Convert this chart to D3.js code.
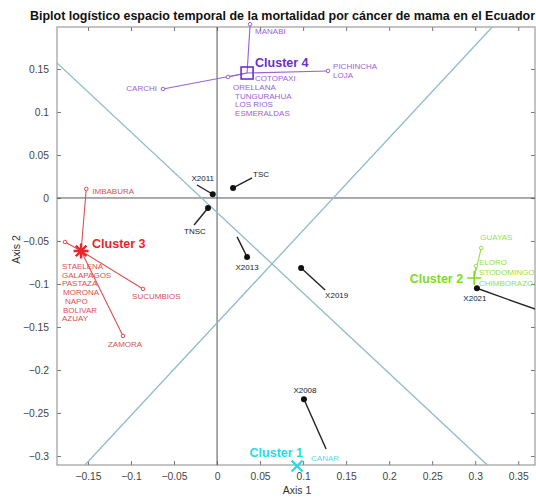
<!DOCTYPE html>
<html>
<head>
<meta charset="utf-8">
<script src="https://cdn.jsdelivr.net/npm/d3@7"></script>
<style>
  html, body { margin: 0; padding: 0; background: #fff; }
  svg { display: block; font-family: "Liberation Sans", Arial, sans-serif; }
</style>
</head>
<body>
<svg id="chart" width="536" height="498"></svg>
<script>
// ---- Data ----------------------------------------------------------------
const xTicks = [-0.15, -0.1, -0.05, 0, 0.05, 0.1, 0.15, 0.2, 0.25, 0.3, 0.35];
const yTicks = [-0.3, -0.25, -0.2, -0.15, -0.1, -0.05, 0, 0.05, 0.1, 0.15];

// Variables (years and sex categories): point and end of the biplot segment
const varNames = ["X2011", "TSC", "TNSC", "X2013", "X2019", "X2008", "X2021"];
const varX     = [-0.005, 0.0186, -0.0105, 0.0349, 0.0977, 0.101, 0.302];
const varY     = [0.0043, 0.0116, -0.0116, -0.0686, -0.0814, -0.234, -0.105];
const varTipX  = [-0.0233, 0.0407, -0.0267, 0.0233, 0.1256, 0.1267, 0.3756];
const varTipY  = [0.0151, 0.0233, -0.0314, -0.0453, -0.107, -0.292, -0.1314];

// Cluster centroids
const clusterNames = ["Cluster 1", "Cluster 2", "Cluster 3", "Cluster 4"];
const clusterX     = [0.093, 0.2988, -0.158, 0.0349];
const clusterY     = [-0.3116, -0.093, -0.0616, 0.1453];

// Provinces, grouped where they share the same position
const provGroups = [
  ["CANAR"],
  ["GUAYAS"],
  ["ELORO", "STODOMINGO", "CHIMBORAZO"],
  ["IMBABURA"],
  ["STAELENA", "GALAPAGOS", "PASTAZA", "MORONA", "NAPO", "BOLIVAR", "AZUAY"],
  ["SUCUMBIOS"],
  ["ZAMORA"],
  ["MANABI"],
  ["PICHINCHA", "LOJA"],
  ["CARCHI"],
  ["COTOPAXI", "ORELLANA", "TUNGURAHUA", "LOS RIOS", "ESMERALDAS"]
];
const provCluster = [0, 1, 1, 2, 2, 2, 2, 3, 3, 3, 3];
const provX = [0.093, 0.307, 0.301, -0.152, -0.1767, -0.086, -0.1093, 0.0384, 0.129, -0.0628, 0.0128];
const provY = [-0.3116, -0.0581, -0.079, 0.0105, -0.0512, -0.1058, -0.1605, 0.202, 0.1477, 0.1267, 0.1407];

// Separating lines (two points each)
const sepLines = [
  [[-0.186, 0.157], [0.314, -0.3105]],
  [[-0.1535, -0.3105], [0.3198, 0.1988]]
];

// ---- Layout / style -------------------------------------------------------
const plot = { left: 57, right: 535, top: 27, bottom: 465 };
const clusterColor = ["#22dde6", "#7ddc1f", "#e8262a", "#6a2fd0"];
const labelColor   = ["#55dde8", "#93e04a", "#d9504f", "#9b62d6"];

// Label placement per variable: [dx, dy, anchor] relative to the point, px
const varLabelPos = {
  X2011: [-10, -13, "middle"], TSC: [20, -11, "start"], TNSC: [-13, 26, "middle"],
  X2013: [0, 13, "middle"], X2019: [24, 30, "start"], X2008: [1, -6, "middle"],
  X2021: [-2, 13, "middle"]
};
// Label block placement per province group: [dx, dy of first line, anchor, line step]
const provLabelPos = [
  [14, -5, "start", 8.5],
  [-1, -8, "start", 9],
  [3, -1, "start", 10.5],
  [6, 5, "start", 8.5],
  [-3, 27, "start", 8.7],
  [-11, 10, "start", 8.5],
  [-15, 11, "start", 8.5],
  [5, 10, "start", 8.5],
  [5, -2, "start", 9],
  [-6, 2, "end", 8.5],
  [27, 4, "start", 8.8]
];
const clusterLabelPos = [[6, -9, "end"], [-11, 5, "end"], [11, -3, "start"], [8, -6, "start"]];
// per-line x shift inside the stacked label blocks
const blockLineDx = { ORELLANA: -22, TUNGURAHUA: -20, "LOS RIOS": -20, ESMERALDAS: -20,
                      GALAPAGOS: 0, MORONA: 1, NAPO: 3, BOLIVAR: 1, AZUAY: 0 };

const x = d3.scaleLinear().domain([-0.186, 0.3695]).range([plot.left, plot.right]);
const y = d3.scaleLinear().domain([-0.3105, 0.1988]).range([plot.bottom, plot.top]);

const svg = d3.select("#chart");

svg.append("defs").append("clipPath").attr("id", "plotClip")
  .append("rect")
  .attr("x", plot.left).attr("y", plot.top)
  .attr("width", plot.right - plot.left).attr("height", plot.bottom - plot.top);

// Title
svg.append("text")
  .attr("x", 30).attr("y", 20)
  .attr("font-size", 12).attr("font-weight", "bold").attr("fill", "#111")
  .attr("textLength", 505).attr("lengthAdjust", "spacingAndGlyphs")
  .text("Biplot logístico espacio temporal de la mortalidad por cáncer de mama en el Ecuador");

// Axes with inward ticks on all four sides (box)
const tickLen = 4;
const fmt = d => d3.format("")(+d.toFixed(2));
const axBottom = d3.axisBottom(x).tickValues(xTicks).tickSizeInner(-tickLen).tickSizeOuter(0).tickPadding(8).tickFormat(fmt);
const axLeft = d3.axisLeft(y).tickValues(yTicks).tickSizeInner(-tickLen).tickSizeOuter(0).tickPadding(8).tickFormat(fmt);
const axTop = d3.axisTop(x).tickValues(xTicks).tickSizeInner(-tickLen).tickSizeOuter(0).tickFormat("");
const axRight = d3.axisRight(y).tickValues(yTicks).tickSizeInner(-tickLen).tickSizeOuter(0).tickFormat("");

function styleAxis(g) {
  g.select(".domain").remove();
  g.selectAll(".tick line").attr("stroke", "#777");
  g.selectAll(".tick text").attr("fill", "#444").attr("font-size", 10.3)
    .attr("font-family", "'Liberation Sans', Arial, sans-serif");
}
svg.append("g").attr("transform", `translate(0,${plot.bottom})`).call(axBottom).call(styleAxis);
svg.append("g").attr("transform", `translate(${plot.left},0)`).call(axLeft).call(styleAxis);
svg.append("g").attr("transform", `translate(0,${plot.top})`).call(axTop).call(styleAxis);
svg.append("g").attr("transform", `translate(${plot.right},0)`).call(axRight).call(styleAxis);

// Frame
svg.append("rect")
  .attr("x", plot.left).attr("y", plot.top)
  .attr("width", plot.right - plot.left).attr("height", plot.bottom - plot.top)
  .attr("fill", "none").attr("stroke", "#888").attr("stroke-width", 1);

// Axis titles
svg.append("text").attr("x", x(0.093)).attr("y", 494).attr("text-anchor", "middle")
  .attr("font-size", 10.5).attr("fill", "#333").text("Axis 1");
svg.append("text").attr("transform", `translate(20,${y(-0.06)}) rotate(-90)`).attr("text-anchor", "middle")
  .attr("font-size", 10.5).attr("fill", "#333").text("Axis 2");

const inner = svg.append("g").attr("clip-path", "url(#plotClip)");

// Zero lines
inner.append("line").attr("x1", x(0)).attr("x2", x(0)).attr("y1", plot.top).attr("y2", plot.bottom)
  .attr("stroke", "#555").attr("stroke-width", 1);
inner.append("line").attr("x1", plot.left).attr("x2", plot.right).attr("y1", y(0)).attr("y2", y(0))
  .attr("stroke", "#555").attr("stroke-width", 1);

// Separating lines
inner.selectAll("line.sep").data(sepLines).join("line").attr("class", "sep")
  .attr("x1", d => x(d[0][0])).attr("y1", d => y(d[0][1]))
  .attr("x2", d => x(d[1][0])).attr("y2", d => y(d[1][1]))
  .attr("stroke", "#8dbcc7").attr("stroke-width", 1.3);

// Cluster-to-province links
const provIdx = d3.range(provGroups.length);
svg.selectAll("line.link").data(provIdx).join("line").attr("class", "link")
  .attr("x1", i => x(clusterX[provCluster[i]])).attr("y1", i => y(clusterY[provCluster[i]]))
  .attr("x2", i => x(provX[i])).attr("y2", i => y(provY[i]))
  .attr("stroke", i => labelColor[provCluster[i]]).attr("stroke-width", 1.1);

// Province points
svg.selectAll("circle.prov").data(provIdx).join("circle").attr("class", "prov")
  .attr("cx", i => x(provX[i])).attr("cy", i => y(provY[i])).attr("r", 1.8)
  .attr("fill", "#fff").attr("stroke", i => labelColor[provCluster[i]]).attr("stroke-width", 1);

// Province labels
provIdx.forEach(i => {
  const [dx, dy, anchor, step] = provLabelPos[i];
  provGroups[i].forEach((name, k) => {
    svg.append("text")
      .attr("x", x(provX[i]) + dx + (blockLineDx[name] || 0))
      .attr("y", y(provY[i]) + dy + k * step)
      .attr("text-anchor", anchor)
      .attr("font-size", 8)
      .attr("fill", labelColor[provCluster[i]])
      .text(name);
  });
});

// Variable segments and points
const varIdx = d3.range(varNames.length);
inner.selectAll("line.var").data(varIdx).join("line").attr("class", "var")
  .attr("x1", i => x(varX[i])).attr("y1", i => y(varY[i]))
  .attr("x2", i => x(varTipX[i])).attr("y2", i => y(varTipY[i]))
  .attr("stroke", "#222").attr("stroke-width", 1.4);
svg.selectAll("circle.var").data(varIdx).join("circle").attr("class", "var")
  .attr("cx", i => x(varX[i])).attr("cy", i => y(varY[i])).attr("r", 3)
  .attr("fill", "#111");
svg.selectAll("text.var").data(varIdx).join("text").attr("class", "var")
  .attr("x", i => x(varX[i]) + varLabelPos[varNames[i]][0])
  .attr("y", i => y(varY[i]) + varLabelPos[varNames[i]][1])
  .attr("text-anchor", i => varLabelPos[varNames[i]][2])
  .attr("font-size", 8).attr("fill", "#222")
  .text(i => varNames[i]);

// Centroid markers: x, +, asterisk, square
function drawMarker(g, i) {
  const cx = x(clusterX[i]), cy = y(clusterY[i]), c = clusterColor[i];
  const m = g.append("g").attr("transform", `translate(${cx},${cy})`)
    .attr("stroke", c).attr("fill", "none");
  if (i === 0) {
    const s = 5.5;
    m.append("path").attr("d", `M${-s},${-s}L${s},${s}M${-s},${s}L${s},${-s}`).attr("stroke-width", 2.2);
  } else if (i === 1) {
    const s = 7;
    m.append("path").attr("d", `M${-s},0L${s},0M0,${-s}L0,${s}`).attr("stroke-width", 1.6);
  } else if (i === 2) {
    const s = 7.5;
    let d = "";
    for (let a = 0; a < 180; a += 45) {
      const r = a * Math.PI / 180;
      d += `M${-s * Math.cos(r)},${-s * Math.sin(r)}L${s * Math.cos(r)},${s * Math.sin(r)}`;
    }
    m.append("path").attr("d", d).attr("stroke-width", 2.4);
  } else {
    const s = 6;
    m.append("rect").attr("x", -s).attr("y", -s).attr("width", 2 * s).attr("height", 2 * s)
      .attr("stroke-width", 1.6);
  }
}
d3.range(clusterNames.length).forEach(i => drawMarker(svg, i));

// Cluster labels
svg.selectAll("text.cl").data(d3.range(clusterNames.length)).join("text").attr("class", "cl")
  .attr("x", i => x(clusterX[i]) + clusterLabelPos[i][0])
  .attr("y", i => y(clusterY[i]) + clusterLabelPos[i][1])
  .attr("text-anchor", i => clusterLabelPos[i][2])
  .attr("font-size", 12.5).attr("font-weight", "bold")
  .attr("fill", i => clusterColor[i])
  .text(i => clusterNames[i]);
</script>
</body>
</html>
